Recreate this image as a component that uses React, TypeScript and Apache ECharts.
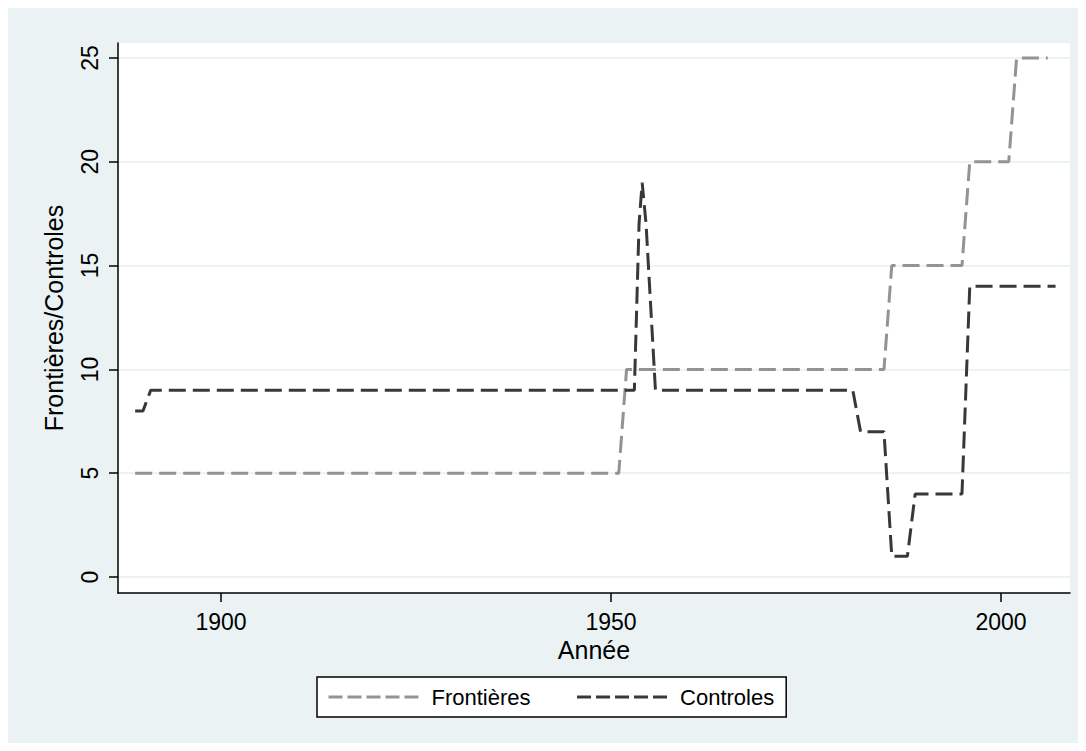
import React, { useEffect, useRef } from "react";
import * as echarts from "echarts";

// Frontières: (year, value) pairs
const frontYears = [1889, 1951, 1952, 1985, 1986, 1995, 1996, 2001, 2002, 2006];
const frontValues = [5, 5, 10, 10, 15, 15, 20, 20, 25, 25];

// Controles
const ctrlYears = [1889, 1890, 1891, 1953, 1953.6, 1954, 1954.5, 1955.7, 1981, 1982, 1985, 1986, 1988, 1989, 1995, 1996, 2007];
const ctrlValues = [8, 8, 9, 9, 17, 19, 17, 9, 9, 7, 7, 1, 1, 4, 4, 14, 14];

const xTicks = [1900, 1950, 2000];
const yTicks = [0, 5, 10, 15, 20, 25];

const seriesNames = ["Frontières", "Controles"];
const xTitle = "Année";
const yTitle = "Frontières/Controles";

const SANS = "'Liberation Sans', Arial, sans-serif";

export default function App() {
  const ref = useRef<HTMLDivElement>(null);

  useEffect(() => {
    const chart = echarts.init(ref.current!, null, { renderer: "svg" });
    const front = frontYears.map((y, i) => [y, frontValues[i]]);
    const ctrl = ctrlYears.map((y, i) => [y, ctrlValues[i]]);

    chart.setOption({
      animation: false,
      backgroundColor: "#eaf2f3",
      grid: {
        left: 110,
        top: 35,
        width: 952,
        height: 550,
        show: true,
        backgroundColor: "#ffffff",
        borderWidth: 0,
        containLabel: false,
        outerBoundsMode: "none",
      },
      xAxis: {
        type: "value",
        min: 1886.8,
        max: 2008.85,
        name: xTitle,
        nameLocation: "middle",
        nameGap: 41,
        nameTextStyle: { fontFamily: SANS, fontSize: 25, color: "#000" },
        axisLine: { show: true, onZero: false, lineStyle: { color: "#000", width: 1.5 } },
        axisTick: { show: true, length: 9, customValues: xTicks, lineStyle: { color: "#000", width: 1.5 } },
        axisLabel: {
          customValues: xTicks,
          margin: 17,
          fontFamily: SANS,
          fontSize: 23,
          color: "#000",
          formatter: (v: number) => String(v),
        },
        splitLine: { show: false },
      },
      yAxis: {
        type: "value",
        min: -0.77,
        max: 25.72,
        name: yTitle,
        nameLocation: "middle",
        nameRotate: 90,
        nameGap: 52,
        nameTextStyle: { fontFamily: SANS, fontSize: 25, color: "#000" },
        axisLine: { show: true, onZero: false, lineStyle: { color: "#000", width: 1.5 } },
        axisTick: { show: true, length: 9, customValues: yTicks, lineStyle: { color: "#000", width: 1.5 } },
        axisLabel: {
          customValues: yTicks,
          rotate: 90,
          margin: 17,
          fontFamily: SANS,
          fontSize: 23,
          color: "#000",
          formatter: (v: number) => String(v),
        },
        splitLine: { show: true, lineStyle: { color: "#e6eff1", width: 1.5 } },
      },
      legend: {
        data: seriesNames,
        left: 309,
        top: 669,
        orient: "horizontal",
        backgroundColor: "#ffffff",
        borderColor: "#000000",
        borderWidth: 1.5,
        borderRadius: 0,
        padding: [9, 12, 9, 10],
        itemWidth: 91,
        itemHeight: 14,
        itemGap: 45,
        itemStyle: { color: "rgba(0,0,0,0)", borderWidth: 0, opacity: 0 },
        lineStyle: { width: 3, type: [14, 5] },
        textStyle: { fontFamily: SANS, fontSize: 22, color: "#000", padding: [0, 0, 0, 7] },
      },
      series: [
        {
          name: seriesNames[0],
          type: "line",
          data: front,
          symbol: "none",
          showSymbol: false,
          lineStyle: { color: "#939393", width: 3, type: [17, 7] },
          itemStyle: { color: "#939393" },
        },
        {
          name: seriesNames[1],
          type: "line",
          data: ctrl,
          symbol: "none",
          showSymbol: false,
          lineStyle: { color: "#383838", width: 3, type: [17, 7] },
          itemStyle: { color: "#383838" },
        },
      ],
    });
    return () => chart.dispose();
  }, []);

  return <div ref={ref} style={{ width: 1070, height: 735 }} />;
}
